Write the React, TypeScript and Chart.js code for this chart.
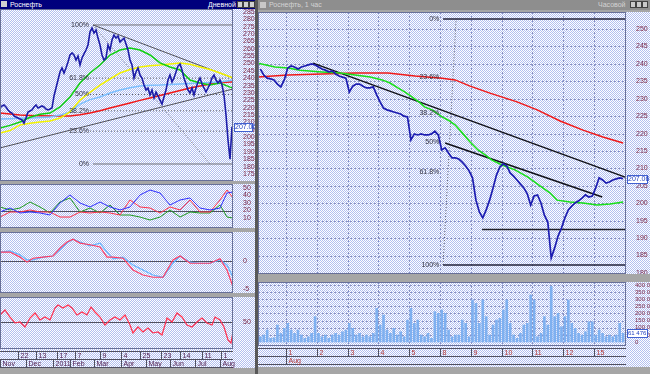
import React, { useEffect, useRef } from 'react';
import { Chart, registerables } from 'chart.js';

Chart.register(...registerables);

const FONT = '"Liberation Sans", "DejaVu Sans", sans-serif';
const AXIS_COLOR = '#7a2848';

// ================= LEFT WINDOW (daily) =================
const leftClose = [
  219.8, 221.2, 221.9, 220.5, 218.5, 217.1, 216.4, 214.4, 213.7, 213.0,
  212.3, 211.7, 209.5, 213.0, 217.1, 217.8, 218.5, 220.5, 221.9, 219.8,
  220.5, 221.2, 220.5, 219.1, 218.5, 219.1, 219.8, 228.0, 233.4, 238.8,
  244.3, 247.0, 243.6, 247.0, 251.1, 255.8, 257.2, 255.8, 252.4, 255.1,
  249.0, 253.8, 256.5, 259.2, 262.6, 271.4, 274.1, 270.7, 272.8, 267.3,
  262.6, 255.8, 252.4, 253.8, 262.6, 259.2, 266.0, 269.4, 267.3, 268.7,
  264.6, 266.0, 267.3, 263.3, 259.2, 252.4, 249.0, 240.2, 244.3, 247.0,
  242.2, 240.2, 235.4, 232.0, 233.4, 228.6, 232.0, 226.6, 230.7, 228.0,
  225.2, 222.5, 227.3, 232.0, 238.8, 242.2, 237.5, 240.2, 244.3, 248.3,
  249.7, 245.6, 240.2, 236.1, 232.0, 230.0, 233.4, 228.6, 233.4, 237.5,
  240.2, 236.1, 233.4, 230.7, 233.4, 236.1, 240.2, 242.2, 238.8, 236.8,
  238.8, 235.4, 228.6, 215.1, 198.1, 185.0, 207.06,
];
const leftMaX = [0, 5, 10, 15, 20, 25, 30, 35, 40, 45, 50, 55, 60, 65, 70, 75, 80, 85, 90, 95, 100, 105, 110, 115, 116.5];
const leftMaGreen = [206.2, 208.0, 210.3, 213.5, 215.5, 216.4, 220.5, 227.3, 236.8, 243.6, 249.0, 255.8, 259.2, 260.6, 259.2, 255.8, 250.4, 247.7, 245.6, 238.8, 236.8, 235.4, 236.8, 234.0, 233.4];
const leftMaYellow = [202.8, 204.5, 208.3, 209.5, 210.3, 211.0, 213.0, 217.1, 225.2, 230.5, 235.4, 239.5, 243.6, 246.0, 247.7, 248.5, 249.0, 249.7, 250.4, 249.5, 247.7, 246.0, 243.6, 241.0, 240.2];
const leftMaBlue = [212.3, 212.6, 212.8, 213.0, 213.3, 213.7, 215.0, 217.1, 222.5, 225.5, 227.3, 230.0, 232.0, 233.5, 234.8, 235.2, 235.4, 235.8, 236.1, 236.5, 236.8, 237.1, 237.5, 238.5, 238.8];
const leftMaRed = [216.4, 215.7, 215.0, 214.7, 214.5, 214.4, 214.4, 214.4, 215.2, 216.4, 218.0, 219.8, 221.5, 223.2, 225.0, 226.6, 228.3, 230.0, 231.7, 233.4, 234.8, 236.1, 237.0, 237.5, 237.5];
const leftPriceTicks = [175, 180, 185, 190, 195, 200, 205, 210, 215, 220, 225, 230, 235, 240, 245, 250, 255, 260, 265, 270, 275, 280, 285];
const leftLastPrice = 207.06;

const leftTrendUpperX = [46.5, 116.5];
const leftTrendUpperY = [276.2, 240.2];
const leftTrendLowerX = [0, 116.5];
const leftTrendLowerY = [192.7, 232.7];
const leftFibLevels = [276.2, 240.1, 229.0, 217.9, 204.1, 181.8];
const leftFibLabels = ['100%', '61.8%', '50%', '38.2%', '23.6%', '0%'];
const leftFibDiagX = [46.5, 105];
const leftFibDiagY = [276.2, 181.8];

const leftDmiX = [0, 5, 10, 15, 20, 25, 30, 35, 40, 45, 50, 55, 60, 65, 70, 75, 80, 85, 90, 95, 100, 105, 110, 113.5, 116.5];
const leftDmiBlue = [18, 23.3, 16.7, 18, 16.7, 14, 30, 40.7, 30, 24.7, 31.3, 24.7, 20.7, 24.7, 40.7, 47.3, 43.3, 27.3, 34, 36.7, 23.3, 20.7, 23.3, 43.3, 44.7];
const leftDmiRed = [11.3, 18, 18, 20.7, 18, 18, 11.3, 11.3, 18, 16.7, 18, 16.7, 14, 34, 24.7, 23.3, 16.7, 24.7, 20.7, 34, 18, 18, 34, 47.3, 36.7];
const leftDmiGreen = [24.7, 20.7, 23.3, 31.3, 24.7, 16.7, 31.3, 36.7, 18, 23.3, 16.7, 27.3, 14, 14, 11.3, 7.3, 11.3, 20.7, 11.3, 18, 16.7, 16.7, 27.3, 11.3, 10];
const leftDmiTicks = [10, 20, 30, 40, 50];

const leftMacdX = [0, 5, 10, 13.5, 16.5, 21.5, 26.5, 30, 33.5, 36.5, 40, 45, 50, 53.5, 56.5, 61.5, 66.5, 71.5, 76.5, 81.5, 86.5, 90, 95, 100, 105, 110, 113.5, 116.5];
const leftMacdBlue = [1.6, 1.8, 1.1, 0.2, 0.2, 0.7, 0.9, 2.0, 3.2, 3.9, 3.4, 2.7, 3.2, 1.6, 0.4, 0.7, -0.7, -1.6, -2.5, -2.9, -0.4, 0.9, -0.2, -0.4, -0.4, 0.2, -0.7, -2.9];
const leftMacdRed = [1.6, 1.6, 0.7, -0.2, 0.5, 0.7, 0.9, 2.3, 3.4, 3.9, 3.2, 2.9, 2.5, 0.7, 0.7, 0.5, -1.6, -2.5, -2.9, -2.9, 0.2, 0.9, -0.4, -0.4, -0.4, 0.4, -1.6, -4.6];
const leftMacdTicks = [-5, 0];

const leftRsiX = [0, 2.5, 5, 7.5, 10, 12.5, 15, 17.5, 20, 22.5, 25, 27.5, 29, 31.5, 34, 36, 38.5, 41, 43.5, 45.5, 47.5, 50, 52.5, 55, 57.5, 60, 62.5, 65, 66.5, 69, 71.5, 74, 76.5, 79, 81, 83.5, 86, 88.5, 91, 93.5, 96, 98.5, 101, 103.5, 106, 107.5, 110, 112, 114, 115.5, 116.5];
const leftRsi = [60, 67.1, 57.1, 48.6, 50, 42.9, 55.7, 62.9, 52.9, 57.1, 52.9, 70, 74.3, 70, 74.3, 70, 60, 64.3, 60, 71.4, 64.3, 57.1, 45.7, 52.9, 57.1, 52.9, 60, 45.7, 34.3, 42.9, 35.7, 41.4, 34.3, 35.7, 31.4, 55.7, 50, 62.9, 57.1, 45.7, 42.9, 50, 55.7, 48.6, 45.7, 57.1, 52.9, 42.9, 24.3, 20, 35.7];
const leftRsiTicks = [50];

const leftDayTicks = [9, 18, 28.5, 37.5, 50, 60.5, 70, 80.5, 90, 101, 110.5];
const leftDayLabels = ['22', '13', '17', '7', '9', '4', '25', '23', '14', '11', '1'];
const leftMonthTicks = [0, 13, 26.5, 35, 47, 60.5, 73, 85, 97.5, 110];
const leftMonthLabels = ['Nov', 'Dec', '2011', 'Feb', 'Mar', 'Apr', 'May', 'Jun', 'Jul', 'Aug'];

// ================= RIGHT WINDOW (hourly) =================
const rightClose = [
  238.5, 236.8, 235.9, 235.7, 235.4, 234.2, 233.4, 235.4,
  238.8, 239.4, 239.1, 238.5, 239.1, 239.4, 239.7, 240.0, 239.7,
  239.1, 238.5, 238.2, 237.7, 238.0, 237.1, 236.5, 236.2, 235.9,
  231.9, 233.6, 234.2, 234.2, 233.6, 233.1, 233.1, 233.4, 231.1,
  229.1, 227.3, 226.8, 226.5, 226.2, 225.9, 225.6, 225.0, 224.8,
  218.2, 219.9, 219.6, 219.9, 219.6, 219.6, 219.9, 220.7, 219.6,
  215.3, 215.9, 214.4, 213.0, 213.0, 212.7, 211.8, 210.7, 209.3,
  207.3, 200.9, 197.5, 195.8, 198.1, 200.9, 204.4, 208.1, 210.4,
  211.3, 210.7, 208.7, 207.8, 206.7, 205.5, 204.4, 202.7, 199.5,
  202.1, 202.4, 200.1, 196.6, 194.6, 184.3, 187.2, 190.6, 192.9,
  195.8, 198.1, 199.2, 200.1, 200.7, 201.5, 202.4, 201.8, 202.1,
  204.4, 207.3, 206.7, 205.8, 206.1, 206.7, 207.0, 207.3, 207.06,
];
const rightVolumeK = [
  37, 49, 84, 26, 30, 119, 60, 96,
  131, 84, 61, 84, 49, 26, 37, 61, 178,
  61, 37, 49, 26, 49, 61, 49, 72, 84,
  131, 96, 49, 61, 37, 49, 37, 61, 236,
  119, 189, 84, 61, 96, 49, 72, 37, 154,
  236, 131, 154, 49, 37, 61, 26, 213, 201,
  225, 201, 84, 37, 49, 49, 154, 131, 37,
  295, 271, 131, 295, 178, 49, 119, 154, 166,
  225, 295, 131, 49, 26, 61, 119, 131, 330,
  295, 37, 61, 178, 119, 390, 178, 201, 107,
  178, 295, 131, 96, 61, 49, 72, 142, 142,
  49, 84, 61, 37, 49, 37, 49, 131, 61.476,
];
const rightGreenX = [-0.68, 4.3, 8.1, 11.6, 18.0, 23.3, 27.7, 32.1, 35.6, 37.9, 40.2, 42.3, 44.3, 46.7, 48.1, 50.2, 53.1, 54.8, 56.9, 59.0, 61.3, 63.6, 65.7, 67.7, 70.6, 74.4, 78.2, 81.7, 84.6, 86.7, 90.5, 94.3, 98.4, 102.2, 106.0];
const rightMaGreen = [240.2, 239.1, 238.8, 238.2, 237.7, 237.4, 236.8, 236.2, 235.4, 234.5, 233.1, 231.9, 230.5, 228.8, 227.6, 226.8, 224.8, 223.9, 222.5, 220.2, 217.6, 215.3, 213.9, 212.4, 211.0, 209.6, 207.5, 205.0, 203.0, 200.9, 200.4, 200.1, 199.5, 199.8, 200.4];
const rightRedX = [-0.68, 8.1, 18.0, 27.7, 37.3, 45.2, 53.1, 56.9, 61.3, 67.1, 75.0, 80.9, 87.6, 94.3, 100.1, 106.0];
const rightMaRed = [236.2, 236.8, 237.1, 237.4, 237.4, 236.5, 235.9, 235.4, 233.6, 231.6, 229.1, 226.8, 223.6, 221.0, 219.0, 217.3];
const rightPriceTicks = [180, 185, 190, 195, 200, 205, 210, 215, 220, 225, 230, 235, 240, 245, 250];
const rightVolTicks = [0, 50, 100, 150, 200, 250, 300, 350, 400];
const rightLastPrice = 207.06;

const rightTrend1X = [15.4, 106.6];
const rightTrend1Y = [240.2, 207.5];
const rightTrend2X = [54.0, 99.9];
const rightTrend2Y = [217.3, 201.8];
const rightSupportX = [64.8, 106.85];
const rightSupportY = [192.5, 192.5];
const rightFibX = [53.4, 106.85];
const rightFibLevels = [252.9, 236.2, 225.9, 217.5, 209.1, 182.3];
const rightFibLabels = ['0%', '23.6%', '38.2%', '50%', '61.8%', '100%'];
const rightFibDiagX = [53.4, 57.2];
const rightFibDiagY = [182.3, 252.9];

const rightDayTicks = [7.5, 16.5, 25.5, 34.5, 43.5, 52.5, 61.5, 70.5, 79.5, 88.5, 97.5];
const rightDayLabels = ['1', '2', '3', '4', '5', '8', '9', '10', '11', '12', '15'];
const rightMonthTicks = [7.5];
const rightMonthLabels = ['Aug'];

// ================= helpers =================
function dither(ctx: CanvasRenderingContext2D) {
  const c = document.createElement('canvas');
  c.width = 2;
  c.height = 2;
  const g = c.getContext('2d')!;
  g.fillStyle = '#ffffff';
  g.fillRect(0, 0, 2, 2);
  g.fillStyle = '#b2bff0';
  g.fillRect(0, 0, 1, 1);
  g.fillRect(1, 1, 1, 1);
  return ctx.createPattern(c, 'repeat')!;
}

type Extra = {
  gridX?: number[];
  gridY?: number[];
  refY?: number[];
  texts?: { x: number; y: number; text: string }[];
  box?: { value: number; text: string; size?: number };
  rows?: { r1: number[]; l1: string[]; r2: number[]; l2: string[]; c1: string; c2: string };
};

function decoPlugin(extra: Extra) {
  return {
    id: 'deco',
    beforeDraw(chart: any) {
      const { ctx, width, height } = chart;
      ctx.save();
      ctx.fillStyle = dither(ctx);
      ctx.fillRect(0, 0, width, height);
      ctx.restore();
    },
    beforeDatasetsDraw(chart: any) {
      const { ctx, chartArea: a, scales } = chart;
      ctx.save();
      ctx.beginPath();
      ctx.rect(a.left, a.top, a.right - a.left, a.bottom - a.top);
      ctx.clip();
      ctx.lineWidth = 1;
      ctx.strokeStyle = '#8890c0';
      ctx.setLineDash([2, 2]);
      (extra.gridY || []).forEach((v) => {
        const y = Math.round(scales.y.getPixelForValue(v)) + 0.5;
        ctx.beginPath();
        ctx.moveTo(a.left, y);
        ctx.lineTo(a.right, y);
        ctx.stroke();
      });
      (extra.gridX || []).forEach((v) => {
        const x = Math.round(scales.x.getPixelForValue(v)) + 0.5;
        ctx.beginPath();
        ctx.moveTo(x, a.top);
        ctx.lineTo(x, a.bottom);
        ctx.stroke();
      });
      ctx.setLineDash([]);
      ctx.strokeStyle = '#505060';
      (extra.refY || []).forEach((v) => {
        const y = Math.round(scales.y.getPixelForValue(v)) + 0.5;
        ctx.beginPath();
        ctx.moveTo(a.left, y);
        ctx.lineTo(a.right, y);
        ctx.stroke();
      });
      ctx.restore();
    },
    afterDatasetsDraw(chart: any) {
      const { ctx, chartArea: a, scales } = chart;
      ctx.save();
      ctx.font = `7px ${FONT}`;
      ctx.fillStyle = '#303040';
      ctx.textAlign = 'right';
      ctx.textBaseline = 'middle';
      (extra.texts || []).forEach((t) => {
        ctx.fillText(t.text, scales.x.getPixelForValue(t.x), scales.y.getPixelForValue(t.y));
      });
      ctx.strokeStyle = '#687098';
      ctx.lineWidth = 1;
      ctx.strokeRect(a.left + 0.5, a.top + 0.5, a.right - a.left - 1, a.bottom - a.top - 1);
      ctx.restore();
    },
    afterDraw(chart: any) {
      const { ctx, chartArea: a, scales, width } = chart;
      ctx.save();
      if (extra.box) {
        ctx.font = `${extra.box.size || 7}px ${FONT}`;
        const y = Math.round(scales.y.getPixelForValue(extra.box.value));
        const x0 = a.right + 1;
        const w = width - x0 - 2;
        ctx.fillStyle = '#ffffff';
        ctx.fillRect(x0, y - 4, w, 9);
        ctx.strokeStyle = '#4060d0';
        ctx.strokeRect(x0 + 0.5, y - 3.5, w - 1, 8);
        ctx.fillStyle = '#2040c0';
        ctx.textAlign = 'left';
        ctx.textBaseline = 'middle';
        ctx.fillText(extra.box.text, x0 + 1, y + 0.5);
      }
      ctx.font = `7px ${FONT}`;
      if (extra.rows) {
        const r = extra.rows;
        const top = a.bottom + 2.5;
        const h = 8;
        ctx.strokeStyle = '#505060';
        ctx.lineWidth = 1;
        [top, top + h, top + 2 * h].forEach((y) => {
          ctx.beginPath();
          ctx.moveTo(a.left, y);
          ctx.lineTo(a.right, y);
          ctx.stroke();
        });
        ctx.textAlign = 'left';
        ctx.textBaseline = 'middle';
        r.r1.forEach((v, i) => {
          const x = Math.round(scales.x.getPixelForValue(v)) + 0.5;
          ctx.beginPath();
          ctx.moveTo(x, top);
          ctx.lineTo(x, top + h);
          ctx.stroke();
          ctx.fillStyle = r.c1;
          ctx.fillText(r.l1[i], x + 2, top + h / 2 + 0.5);
        });
        r.r2.forEach((v, i) => {
          const x = Math.round(scales.x.getPixelForValue(v)) + 0.5;
          ctx.beginPath();
          ctx.moveTo(x, top + h);
          ctx.lineTo(x, top + 2 * h);
          ctx.stroke();
          ctx.fillStyle = r.c2;
          ctx.fillText(r.l2[i], x + 2, top + h * 1.5 + 0.5);
        });
      }
      ctx.restore();
    },
  };
}

function yScale(min: number, max: number, ticks: number[], width: number, fmt?: (v: number) => string, size = 7) {
  return {
    type: 'linear',
    position: 'right',
    min,
    max,
    grid: { display: false },
    border: { display: false },
    afterBuildTicks: (s: any) => {
      s.ticks = ticks.map((v) => ({ value: v }));
    },
    afterFit: (s: any) => {
      s.width = width;
      s.paddingTop = 0;
      s.paddingBottom = 0;
    },
    ticks: {
      color: AXIS_COLOR,
      font: { size, family: FONT },
      padding: size < 7 ? 1 : 2,
      autoSkip: false,
      callback: (v: any) => (fmt ? fmt(Number(v)) : String(v)),
    },
  };
}

function lineDs(xs: number[], ys: number[], color: string, width = 1, dash: number[] = []) {
  return {
    type: 'line',
    data: xs.map((x, i) => ({ x, y: ys[i] })),
    borderColor: color,
    borderWidth: width,
    borderDash: dash,
    pointRadius: 0,
    tension: 0,
    fill: false,
  };
}

function baseOptions(xMin: number, xMax: number, y: any, padBottom = 0) {
  return {
    animation: false,
    responsive: false,
    maintainAspectRatio: false,
    devicePixelRatio: 1,
    events: [],
    layout: { padding: { left: 0, right: 0, top: 0, bottom: padBottom } },
    plugins: { legend: { display: false }, tooltip: { enabled: false } },
    scales: {
      x: { type: 'linear', display: false, min: xMin, max: xMax, offset: false },
      y,
    },
  };
}

function ChartCanvas(props: { left: number; top: number; width: number; height: number; build: () => any }) {
  const ref = useRef<HTMLCanvasElement>(null);
  useEffect(() => {
    const chart = new Chart(ref.current as HTMLCanvasElement, props.build());
    return () => chart.destroy();
  }, []);
  return (
    <canvas
      ref={ref}
      width={props.width}
      height={props.height}
      style={{ position: 'absolute', left: props.left, top: props.top, width: props.width, height: props.height }}
    />
  );
}

const idx = (arr: number[]) => arr.map((_, i) => i);

// ================= chart builders =================
const L_MIN = 0;
const L_MAX = 116.5;
const R_MIN = -0.68;
const R_MAX = 106.85;

function buildLeftPrice() {
  const fibDatasets = leftFibLevels.map((lv, i) => {
    const solid = i === 0 || i === leftFibLevels.length - 1;
    return lineDs(solid ? [46.5, L_MAX] : [45, L_MAX], [lv, lv], solid ? '#707078' : '#606068', 1, solid ? [] : [1, 2]);
  });
  return {
    type: 'line',
    data: {
      datasets: [
        lineDs(idx(leftClose), leftClose, '#1c1ca8', 1.6),
        lineDs(leftMaX, leftMaGreen, '#10d010', 1.5),
        lineDs(leftMaX, leftMaYellow, '#f4f400', 1.5),
        lineDs(leftMaX, leftMaBlue, '#7cc0ff', 1.5),
        lineDs(leftMaX, leftMaRed, '#f01818', 1.5),
        lineDs(leftTrendUpperX, leftTrendUpperY, '#505058', 1),
        lineDs(leftTrendLowerX, leftTrendLowerY, '#505058', 1),
        lineDs(leftFibDiagX, leftFibDiagY, '#707078', 1, [1, 2]),
        ...fibDatasets,
      ],
    },
    options: baseOptions(L_MIN, L_MAX, yScale(170.25, 287.04, leftPriceTicks, 22)),
    plugins: [
      decoPlugin({
        texts: leftFibLevels.map((lv, i) => ({ x: 44.5, y: lv, text: leftFibLabels[i] })),
        box: { value: leftLastPrice, text: leftLastPrice.toFixed(2) },
      }),
    ],
  };
}

function buildLeftDmi() {
  return {
    type: 'line',
    data: {
      datasets: [
        lineDs(leftDmiX, leftDmiBlue, '#3030ff', 1),
        lineDs(leftDmiX, leftDmiRed, '#ff3048', 1),
        lineDs(leftDmiX, leftDmiGreen, '#209a20', 1),
      ],
    },
    options: baseOptions(L_MIN, L_MAX, yScale(-3.3, 55.3, leftDmiTicks, 22)),
    plugins: [decoPlugin({ refY: [20] })],
  };
}

function buildLeftMacd() {
  return {
    type: 'line',
    data: {
      datasets: [
        lineDs(leftMacdX, leftMacdRed, '#ff3c64', 1.2),
        lineDs(leftMacdX, leftMacdBlue, '#64b4ff', 1.2),
      ],
    },
    options: baseOptions(L_MIN, L_MAX, yScale(-5.71, 5.18, leftMacdTicks, 22)),
    plugins: [decoPlugin({ refY: [0] })],
  };
}

function buildLeftRsi() {
  return {
    type: 'line',
    data: { datasets: [lineDs(leftRsiX, leftRsi, '#ff3050', 1.2)] },
    options: baseOptions(L_MIN, L_MAX, yScale(11.4, 85.7, leftRsiTicks, 22), 19),
    plugins: [
      decoPlugin({
        refY: [50],
        rows: { r1: leftDayTicks, l1: leftDayLabels, r2: leftMonthTicks, l2: leftMonthLabels, c1: '#502050', c2: '#502050' },
      }),
    ],
  };
}

function buildRightPrice() {
  return {
    type: 'line',
    data: {
      datasets: [
        lineDs(idx(rightClose), rightClose, '#1c1cb0', 1.7),
        lineDs(rightGreenX, rightMaGreen, '#18e018', 1.5),
        lineDs(rightRedX, rightMaRed, '#f01818', 1.5),
        lineDs(rightTrend1X, rightTrend1Y, '#101018', 1.5),
        lineDs(rightTrend2X, rightTrend2Y, '#101018', 1.5),
        lineDs(rightSupportX, rightSupportY, '#202028', 1.5),
        lineDs(rightFibX, [rightFibLevels[0], rightFibLevels[0]], '#202038', 1.5),
        lineDs(rightFibX, [rightFibLevels[5], rightFibLevels[5]], '#202038', 1.5),
        lineDs(rightFibDiagX, rightFibDiagY, '#606070', 1, [1, 2]),
      ],
    },
    options: baseOptions(R_MIN, R_MAX, yScale(179.71, 254.88, rightPriceTicks, 24)),
    plugins: [
      decoPlugin({
        gridY: rightPriceTicks,
        gridX: rightDayTicks,
        texts: rightFibLevels.map((lv, i) => ({ x: 52.3, y: lv, text: rightFibLabels[i] })),
        box: { value: rightLastPrice, text: rightLastPrice.toFixed(2) },
      }),
    ],
  };
}

function buildRightVolume() {
  const last = rightVolumeK[rightVolumeK.length - 1];
  return {
    type: 'bar',
    data: {
      datasets: [
        {
          type: 'bar',
          data: rightVolumeK.map((v, i) => ({ x: i, y: v })),
          backgroundColor: '#7eb0f0',
          borderWidth: 0,
          barThickness: 2,
        },
      ],
    },
    options: baseOptions(
      R_MIN,
      R_MAX,
      yScale(-28.07, 421.05, rightVolTicks, 24, (v) => (v === 0 ? '0' : `${v} 000`), 6),
      21,
    ),
    plugins: [
      decoPlugin({
        gridY: rightVolTicks.filter((v) => v > 0),
        gridX: rightDayTicks,
        box: { value: last, text: `${Math.floor(last)} ${String(Math.round((last % 1) * 1000)).padStart(3, '0')}`, size: 6 },
        rows: { r1: rightDayTicks, l1: rightDayLabels, r2: rightMonthTicks, l2: rightMonthLabels, c1: '#b03838', c2: '#b03838' },
      }),
    ],
  };
}

function TitleButtons({ left, color }: { left: number; color: string }) {
  return (
    <>
      {[0, 6, 12].map((d) => (
        <span
          key={d}
          style={{
            position: 'absolute',
            left: left + d,
            top: 1,
            width: 6,
            height: 7,
            background: color,
            border: '1px solid #404040',
            boxSizing: 'border-box',
          }}
        />
      ))}
    </>
  );
}

export default function App() {
  useEffect(() => {
    document.body.style.margin = '0';
  }, []);
  return (
    <div
      style={{
        position: 'absolute',
        left: 0,
        top: 0,
        width: 650,
        height: 374,
        background: '#a6a6a6',
        overflow: 'hidden',
        fontFamily: FONT,
      }}
    >
      {/* left title bar */}
      <div style={{ position: 'absolute', left: 0, top: 0, width: 255, height: 9, background: '#00007c', color: '#ffffff', fontSize: 7, lineHeight: '9px', whiteSpace: 'nowrap' }}>
        <span style={{ position: 'absolute', left: 1, top: 1, width: 6, height: 6, background: '#d0d0d0' }} />
        <span style={{ position: 'absolute', left: 10, top: 0 }}>Роснефть</span>
        <span style={{ position: 'absolute', left: 208, top: 0 }}>Дневной</span>
        <TitleButtons left={237} color="#d0d0d0" />
      </div>
      {/* window divider */}
      <div style={{ position: 'absolute', left: 255, top: 0, width: 3, height: 374, background: '#585858' }} />
      {/* right title bar */}
      <div style={{ position: 'absolute', left: 258, top: 0, width: 392, height: 10, background: '#8e8e8e', color: '#d4d4d4', fontSize: 7, lineHeight: '10px', whiteSpace: 'nowrap' }}>
        <span style={{ position: 'absolute', left: 2, top: 2, width: 6, height: 6, background: '#c8c8c8' }} />
        <span style={{ position: 'absolute', left: 11, top: 0 }}>Роснефть, 1 час</span>
        <span style={{ position: 'absolute', left: 340, top: 0 }}>Часовой</span>
        <TitleButtons left={372} color="#c8c8c8" />
      </div>

      <ChartCanvas left={0} top={9} width={255} height={172} build={buildLeftPrice} />
      <ChartCanvas left={0} top={184} width={255} height={44} build={buildLeftDmi} />
      <ChartCanvas left={0} top={232} width={255} height={61} build={buildLeftMacd} />
      <ChartCanvas left={0} top={297} width={255} height={71} build={buildLeftRsi} />

      <ChartCanvas left={258} top={12} width={392} height={262} build={buildRightPrice} />
      <ChartCanvas left={258} top={282} width={392} height={85} build={buildRightVolume} />
    </div>
  );
}
